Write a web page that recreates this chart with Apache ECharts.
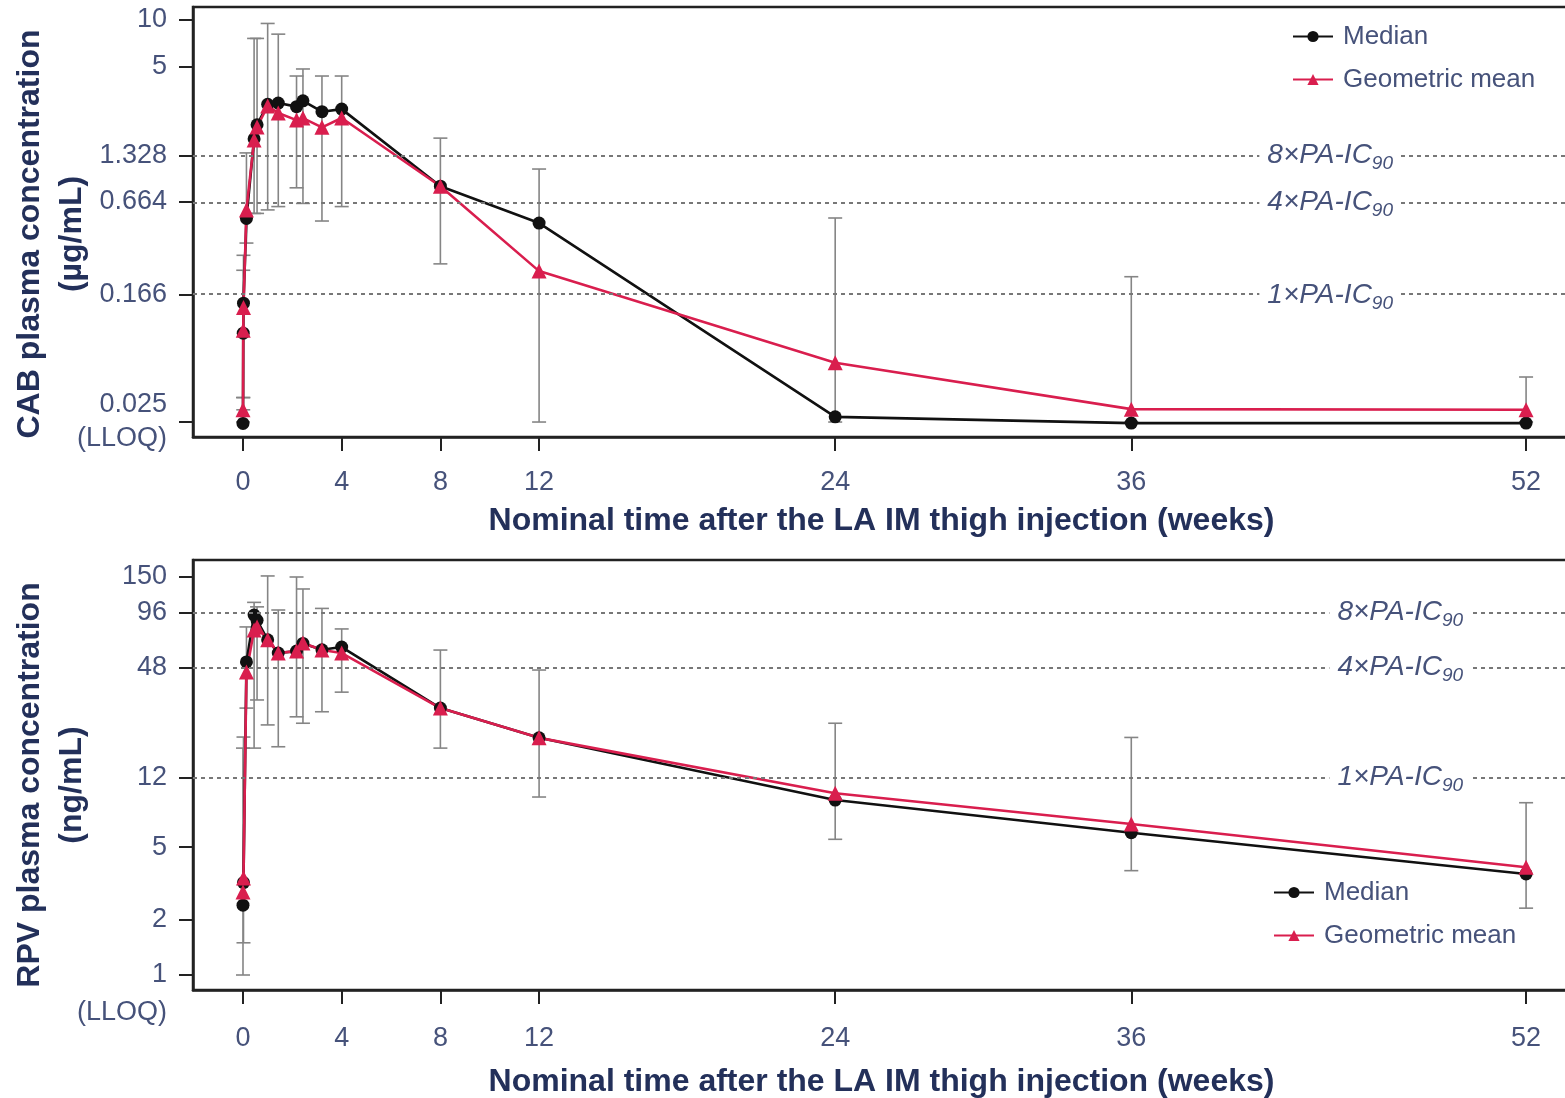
<!DOCTYPE html>
<html><head><meta charset="utf-8">
<script src="https://cdn.jsdelivr.net/npm/echarts@6/dist/echarts.min.js"></script>
<style>html,body{margin:0;padding:0;background:#fff}#c{width:1565px;height:1098px}</style>
</head><body><div id="c"></div>
<script>
// ---- data ----
const xTickValues = [0, 4, 8, 12, 24, 36, 52];

const cabTimes    = [0, 0.01, 0.02, 0.14, 0.45, 0.57, 1.0, 1.43, 2.17, 2.43, 3.2, 4, 8, 12, 24, 36, 52];
const cabMedian   = [0.0245, 0.094, 0.147, 0.52, 1.7, 2.1, 2.85, 2.9, 2.75, 3.0, 2.55, 2.65, 0.84, 0.485, 0.027, 0.0246, 0.0246];
const cabGeoMean  = [0.030, 0.098, 0.138, 0.59, 1.67, 2.03, 2.78, 2.5, 2.25, 2.32, 2.02, 2.32, 0.84, 0.237, 0.0605, 0.0303, 0.030];
const cabLow      = [0.025, 0.030, 0.036, 0.36, 0.56, 0.56, 0.59, 0.62, 0.82, 0.65, 0.50, 0.62, 0.264, 0.025, 0.025, 0.025, 0.025];
const cabHigh     = [0.036, 0.24, 0.30, 1.38, 7.6, 7.6, 9.5, 8.1, 4.34, 4.82, 4.34, 4.34, 1.72, 1.085, 0.523, 0.218, 0.0489];
const cabTickValues = [10, 5, 1.328, 0.664, 0.166, 0.025];
const cabTickLabels = ['10', '5', '1.328', '0.664', '0.166', '{v|0.025}\n{v|(LLOQ)}'];
const cabRefValues  = [1.328, 0.664, 0.166];

const rpvTimes    = [0, 0.02, 0.14, 0.45, 0.57, 1.0, 1.43, 2.17, 2.43, 3.2, 4, 8, 12, 24, 36, 52];
const rpvMedian   = [2.41, 3.2, 51.5, 93, 87, 68, 57.6, 59, 65, 60, 62.1, 28.8, 19.8, 9.05, 6.0, 3.57];
const rpvGeoMean  = [2.84, 3.39, 45.3, 77, 80, 68, 57.6, 59, 65.3, 59.8, 57.6, 28.8, 19.8, 9.85, 6.69, 3.88];
const rpvLow      = [1.0, 1.5, 28.8, 17.4, 31.9, 23.3, 17.7, 25.8, 23.8, 27.5, 35.2, 17.4, 9.4, 5.52, 3.72, 2.32];
const rpvHigh     = [17.4, 20.0, 80, 109, 103, 152, 99, 150, 129, 101, 78, 59.8, 46.5, 23.8, 19.9, 8.75];
const rpvTickValues = [150, 96, 48, 12, 5, 2, 1];
const rpvTickLabels = ['150', '96', '48', '12', '5', '2', '1'];
const rpvLloqValue = 1;
const rpvLloqLabel = '(LLOQ)';
const rpvRefValues  = [96, 48, 12];

const refLabels = ['8×PA-IC', '4×PA-IC', '1×PA-IC'];
const refSub = '90';
const cabRefLabelX = 44.06;
const rpvRefLabelX = 46.9;

// ---- styles ----
const FONT = '"Liberation Sans", Arial, sans-serif';
const TICKC = '#46527a';
const TITLEC = '#23305a';
const RED = '#d91e4e';
const BLK = '#111111';

function tickFormatter(vals, labels) {
  return function (v) {
    for (let i = 0; i < vals.length; i++) {
      if (Math.abs(v - vals[i]) / vals[i] < 1e-3) return labels[i];
    }
    return '';
  };
}

function errRender(params, api) {
  const x = api.value(0), lo = api.value(1), hi = api.value(2);
  const p1 = api.coord([x, lo]), p2 = api.coord([x, hi]);
  const w = 7;
  const st = { stroke: '#858585', lineWidth: 1.6 };
  return {
    type: 'group', children: [
      { type: 'line', shape: { x1: p1[0], y1: p1[1], x2: p2[0], y2: p2[1] }, style: st },
      { type: 'line', shape: { x1: p1[0] - w, y1: p1[1], x2: p1[0] + w, y2: p1[1] }, style: st },
      { type: 'line', shape: { x1: p2[0] - w, y1: p2[1], x2: p2[0] + w, y2: p2[1] }, style: st }
    ]
  };
}

function zip(a, b) { return a.map((v, i) => [v, b[i]]); }
function zip3(a, b, c) { return a.map((v, i) => [v, b[i], c[i]]); }

function xAxisDef(gridIndex, margin, nameGap) {
  return {
    type: 'value', gridIndex: gridIndex, min: -2.026, max: 53.78,
    axisLine: { show: true, onZero: false, lineStyle: { color: '#222', width: 2.5 } },
    axisTick: { show: true, inside: false, length: 14, customValues: xTickValues, lineStyle: { color: '#222', width: 2 } },
    axisLabel: { customValues: xTickValues, fontSize: 27, color: TICKC, margin: margin, fontFamily: FONT, hideOverlap: false },
    splitLine: { show: false },
    name: 'Nominal time after the LA IM thigh injection (weeks)',
    nameLocation: 'middle', nameGap: nameGap, nameMoveOverlap: false,
    nameTextStyle: { fontSize: 32, fontWeight: 'bold', color: TITLEC, fontFamily: FONT }
  };
}

const richTick = {
  v: { fontSize: 27, color: TICKC, fontFamily: FONT, lineHeight: 34 }
};

function yAxisDef(gridIndex, min, max, vals, labels, name, nameGap, namePad) {
  return {
    type: 'log', logBase: 10, gridIndex: gridIndex, min: min, max: max,
    axisLine: { show: true, onZero: false, lineStyle: { color: '#222', width: 2.5 } },
    axisTick: { show: true, inside: false, length: 14, customValues: vals, lineStyle: { color: '#222', width: 2 } },
    axisLabel: { customValues: vals, formatter: tickFormatter(vals, labels), fontSize: 27, color: TICKC, margin: 26,
                 fontFamily: FONT, hideOverlap: false, showMinLabel: true, showMaxLabel: true, rich: richTick },
    splitLine: { show: false }, minorTick: { show: false },
    name: name, nameLocation: 'middle', nameGap: nameGap, nameMoveOverlap: false,
    nameTextStyle: { fontSize: 32, fontWeight: 'bold', color: TITLEC, fontFamily: FONT, lineHeight: 42, padding: namePad }
  };
}

function refMarkLine(vals) {
  return {
    silent: true, symbol: 'none', animation: false,
    label: { show: false },
    lineStyle: { color: '#777', width: 2, type: [4, 4] },
    data: vals.map(v => ({ yAxis: v }))
  };
}

function refMarkPoint(vals, xPos) {
  return {
    silent: true, symbol: 'rect', symbolSize: 1, animation: false,
    itemStyle: { color: 'rgba(0,0,0,0)' },
    label: {
      show: true, position: 'inside', backgroundColor: '#fff', padding: [0, 8, 0, 8],
      formatter: p => '{m|' + p.name + '}{s|' + refSub + '}',
      rich: {
        m: { fontSize: 28, fontStyle: 'italic', color: TICKC, fontFamily: FONT, lineHeight: 36 },
        s: { fontSize: 19, fontStyle: 'italic', color: TICKC, fontFamily: FONT, lineHeight: 20, verticalAlign: 'bottom' }
      }
    },
    data: vals.map((v, i) => ({ name: refLabels[i], coord: [xPos, v] }))
  };
}

function lineSeries(name, xi, data, color, symbol, size, extra) {
  return Object.assign({
    name: name, type: 'line', xAxisIndex: xi, yAxisIndex: xi, data: data,
    symbol: symbol, symbolSize: size, showSymbol: true,
    lineStyle: { color: color, width: 2.6 }, itemStyle: { color: color },
    emphasis: { disabled: true }, animation: false, z: 3
  }, extra || {});
}

function legendDef(left, top) {
  return {
    orient: 'vertical', left: left, top: top, itemWidth: 40, itemHeight: 14, itemGap: 16,
    selectedMode: false,
    textStyle: { fontSize: 26, color: TICKC, fontFamily: FONT, lineHeight: 27, padding: [0, 0, 0, 5] },
    data: ['Median', 'Geometric mean']
  };
}

const option = {
  animation: false,
  backgroundColor: '#fff',
  grid: [
    { left: 193, top: 7, width: 1377, height: 430, show: true, borderColor: '#222', borderWidth: 2.5, containLabel: false, outerBoundsMode: 'none' },
    { left: 193, top: 560, width: 1377, height: 430, show: true, borderColor: '#222', borderWidth: 2.5, containLabel: false, outerBoundsMode: 'none' }
  ],
  legend: [legendDef(1287, 18), legendDef(1268, 874)],
  xAxis: [xAxisDef(0, 32, 68), xAxisDef(1, 35, 76)],
  yAxis: [
    yAxisDef(0, 0.02, 12.14, cabTickValues, cabTickLabels, 'CAB plasma concentration\n(µg/mL)', 100, [0, 24, 0, 0]),
    yAxisDef(1, 0.828, 185.8, rpvTickValues, rpvTickLabels, 'RPV plasma concentration\n(ng/mL)', 100, [0, 20, 0, 0]),
    {
      type: 'log', logBase: 10, gridIndex: 1, min: 0.828, max: 185.8, position: 'left',
      axisLine: { show: false, onZero: false }, axisTick: { show: false }, splitLine: { show: false },
      axisLabel: { customValues: [rpvLloqValue], formatter: () => rpvLloqLabel, fontSize: 27, color: TICKC,
                   fontFamily: FONT, margin: 26, verticalAlign: 'top', padding: [24, 0, 0, 0],
                   hideOverlap: false, showMinLabel: true }
    }
  ],
  series: [
    { type: 'custom', name: 'cabErr', xAxisIndex: 0, yAxisIndex: 0, renderItem: errRender,
      data: zip3(cabTimes, cabLow, cabHigh), encode: { x: 0, y: [1, 2] }, z: 1, silent: true,
      markLine: refMarkLine(cabRefValues) },
    lineSeries('Median', 0, zip(cabTimes, cabMedian), BLK, 'circle', 13),
    lineSeries('Geometric mean', 0, zip(cabTimes, cabGeoMean), RED, 'triangle', 15,
      { markPoint: refMarkPoint(cabRefValues, cabRefLabelX) }),
    { type: 'custom', name: 'rpvErr', xAxisIndex: 1, yAxisIndex: 1, renderItem: errRender,
      data: zip3(rpvTimes, rpvLow, rpvHigh), encode: { x: 0, y: [1, 2] }, z: 1, silent: true,
      markLine: refMarkLine(rpvRefValues) },
    lineSeries('Median', 1, zip(rpvTimes, rpvMedian), BLK, 'circle', 13),
    lineSeries('Geometric mean', 1, zip(rpvTimes, rpvGeoMean), RED, 'triangle', 15,
      { markPoint: refMarkPoint(rpvRefValues, rpvRefLabelX) })
  ]
};

const chart = echarts.init(document.getElementById('c'), null, { renderer: 'canvas' });
chart.setOption(option);
</script>
</body></html>
